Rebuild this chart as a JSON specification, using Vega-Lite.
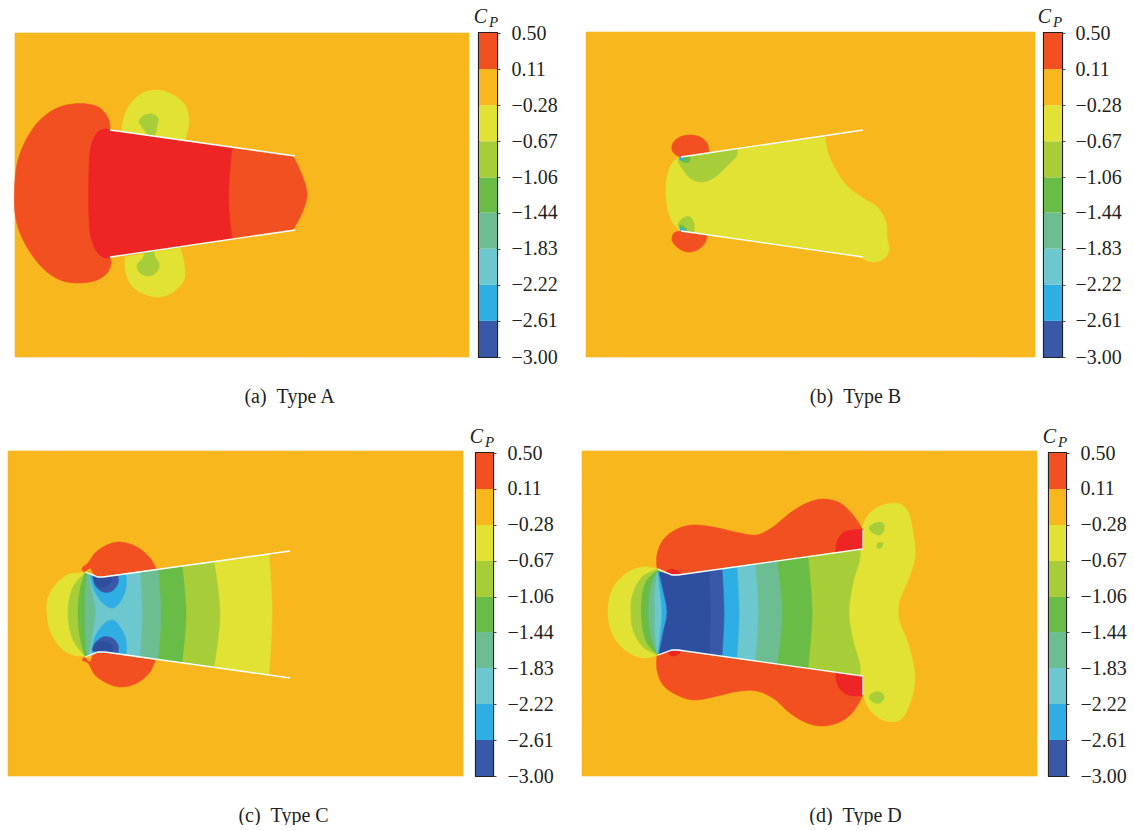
{"$schema":"https://vega.github.io/schema/vega-lite/v6.json","padding":{"left":6,"top":4,"right":0,"bottom":0},"background":"white","spacing":18,"config":{"view":{"stroke":null},"axis":{"grid":false},"font":"Liberation Serif"},
"datasets":{
"bands":[{"band":-3,"hi":-2.61},{"band":-2.61,"hi":-2.22},{"band":-2.22,"hi":-1.83},{"band":-1.83,"hi":-1.44},{"band":-1.44,"hi":-1.06},{"band":-1.06,"hi":-0.67},{"band":-0.67,"hi":-0.28},{"band":-0.28,"hi":0.11},{"band":0.11,"hi":0.5}],
"a":[
{"poly":"a0","band":-0.28,"x":15,"y":33},{"poly":"a0","band":-0.28,"x":15,"y":33},{"poly":"a0","band":-0.28,"x":469,"y":33},{"poly":"a0","band":-0.28,"x":469,"y":33},{"poly":"a0","band":-0.28,"x":469,"y":357},{"poly":"a0","band":-0.28,"x":469,"y":357},{"poly":"a0","band":-0.28,"x":15,"y":357},{"poly":"a0","band":-0.28,"x":15,"y":357},
{"poly":"a1","band":-0.67,"x":122,"y":131},{"poly":"a1","band":-0.67,"x":122,"y":131},{"poly":"a1","band":-0.67,"x":124,"y":117},{"poly":"a1","band":-0.67,"x":132,"y":102},{"poly":"a1","band":-0.67,"x":143,"y":93},{"poly":"a1","band":-0.67,"x":158,"y":90},{"poly":"a1","band":-0.67,"x":173,"y":95},{"poly":"a1","band":-0.67,"x":185,"y":105},{"poly":"a1","band":-0.67,"x":189,"y":120},{"poly":"a1","band":-0.67,"x":187,"y":133},{"poly":"a1","band":-0.67,"x":185,"y":141},{"poly":"a1","band":-0.67,"x":185,"y":141},
{"poly":"a2","band":-1.06,"x":139,"y":122},{"poly":"a2","band":-1.06,"x":143,"y":116},{"poly":"a2","band":-1.06,"x":152,"y":114},{"poly":"a2","band":-1.06,"x":158,"y":118},{"poly":"a2","band":-1.06,"x":157,"y":127},{"poly":"a2","band":-1.06,"x":155,"y":136},{"poly":"a2","band":-1.06,"x":155,"y":136},{"poly":"a2","band":-1.06,"x":147,"y":134},{"poly":"a2","band":-1.06,"x":147,"y":134},{"poly":"a2","band":-1.06,"x":142,"y":127},
{"poly":"a3","band":-0.67,"x":125,"y":257},{"poly":"a3","band":-0.67,"x":125,"y":257},{"poly":"a3","band":-0.67,"x":126,"y":273},{"poly":"a3","band":-0.67,"x":133,"y":287},{"poly":"a3","band":-0.67,"x":147,"y":295},{"poly":"a3","band":-0.67,"x":160,"y":297},{"poly":"a3","band":-0.67,"x":173,"y":292},{"poly":"a3","band":-0.67,"x":184,"y":280},{"poly":"a3","band":-0.67,"x":184,"y":263},{"poly":"a3","band":-0.67,"x":180,"y":248},{"poly":"a3","band":-0.67,"x":180,"y":248},
{"poly":"a4","band":-1.06,"x":145,"y":252},{"poly":"a4","band":-1.06,"x":145,"y":252},{"poly":"a4","band":-1.06,"x":143,"y":258},{"poly":"a4","band":-1.06,"x":137,"y":265},{"poly":"a4","band":-1.06,"x":140,"y":273},{"poly":"a4","band":-1.06,"x":150,"y":276},{"poly":"a4","band":-1.06,"x":158,"y":270},{"poly":"a4","band":-1.06,"x":159,"y":263},{"poly":"a4","band":-1.06,"x":155,"y":257},{"poly":"a4","band":-1.06,"x":154,"y":251},{"poly":"a4","band":-1.06,"x":154,"y":251},
{"poly":"a5","band":0.11,"x":110,"y":130},{"poly":"a5","band":0.11,"x":110,"y":130},{"poly":"a5","band":0.11,"x":109,"y":120},{"poly":"a5","band":0.11,"x":100,"y":108},{"poly":"a5","band":0.11,"x":87,"y":104},{"poly":"a5","band":0.11,"x":73,"y":104},{"poly":"a5","band":0.11,"x":57,"y":108},{"poly":"a5","band":0.11,"x":40,"y":120},{"poly":"a5","band":0.11,"x":27,"y":138},{"poly":"a5","band":0.11,"x":18,"y":160},{"poly":"a5","band":0.11,"x":15,"y":180},{"poly":"a5","band":0.11,"x":15,"y":213},{"poly":"a5","band":0.11,"x":20,"y":233},{"poly":"a5","band":0.11,"x":32,"y":255},{"poly":"a5","band":0.11,"x":47,"y":272},{"poly":"a5","band":0.11,"x":63,"y":281},{"poly":"a5","band":0.11,"x":80,"y":283},{"poly":"a5","band":0.11,"x":97,"y":280},{"poly":"a5","band":0.11,"x":108,"y":272},{"poly":"a5","band":0.11,"x":111,"y":263},{"poly":"a5","band":0.11,"x":110,"y":257},{"poly":"a5","band":0.11,"x":110,"y":257},
{"poly":"a6","band":0.11,"x":220,"y":146},{"poly":"a6","band":0.11,"x":220,"y":146},{"poly":"a6","band":0.11,"x":293,"y":156},{"poly":"a6","band":0.11,"x":293,"y":156},{"poly":"a6","band":0.11,"x":300,"y":170},{"poly":"a6","band":0.11,"x":306,"y":187},{"poly":"a6","band":0.11,"x":307,"y":197},{"poly":"a6","band":0.11,"x":302,"y":213},{"poly":"a6","band":0.11,"x":293,"y":230},{"poly":"a6","band":0.11,"x":293,"y":230},{"poly":"a6","band":0.11,"x":220,"y":240},{"poly":"a6","band":0.11,"x":220,"y":240},
{"poly":"a7","band":0.5,"x":110,"y":130},{"poly":"a7","band":0.5,"x":110,"y":130},{"poly":"a7","band":0.5,"x":105,"y":129},{"poly":"a7","band":0.5,"x":98,"y":132},{"poly":"a7","band":0.5,"x":93,"y":140},{"poly":"a7","band":0.5,"x":90,"y":153},{"poly":"a7","band":0.5,"x":89,"y":170},{"poly":"a7","band":0.5,"x":89,"y":217},{"poly":"a7","band":0.5,"x":91,"y":237},{"poly":"a7","band":0.5,"x":97,"y":252},{"poly":"a7","band":0.5,"x":105,"y":258},{"poly":"a7","band":0.5,"x":110,"y":257},{"poly":"a7","band":0.5,"x":110,"y":257},{"poly":"a7","band":0.5,"x":232,"y":238},{"poly":"a7","band":0.5,"x":232,"y":238},{"poly":"a7","band":0.5,"x":229,"y":210},{"poly":"a7","band":0.5,"x":229,"y":183},{"poly":"a7","band":0.5,"x":232,"y":148},{"poly":"a7","band":0.5,"x":232,"y":148}],
"a_edges":[{"edge":"t","x":110,"y":130},{"edge":"t","x":295,"y":156},{"edge":"b","x":110,"y":257},{"edge":"b","x":295,"y":230}],
"b":[
{"poly":"b0","band":-0.28,"x":586,"y":32},{"poly":"b0","band":-0.28,"x":586,"y":32},{"poly":"b0","band":-0.28,"x":1035,"y":32},{"poly":"b0","band":-0.28,"x":1035,"y":32},{"poly":"b0","band":-0.28,"x":1035,"y":357},{"poly":"b0","band":-0.28,"x":1035,"y":357},{"poly":"b0","band":-0.28,"x":586,"y":357},{"poly":"b0","band":-0.28,"x":586,"y":357},
{"poly":"b1","band":-0.67,"x":825,"y":137},{"poly":"b1","band":-0.67,"x":825,"y":137},{"poly":"b1","band":-0.67,"x":828,"y":153},{"poly":"b1","band":-0.67,"x":837,"y":172},{"poly":"b1","band":-0.67,"x":848,"y":187},{"poly":"b1","band":-0.67,"x":863,"y":198},{"poly":"b1","band":-0.67,"x":878,"y":208},{"poly":"b1","band":-0.67,"x":886,"y":222},{"poly":"b1","band":-0.67,"x":887,"y":238},{"poly":"b1","band":-0.67,"x":889,"y":250},{"poly":"b1","band":-0.67,"x":885,"y":258},{"poly":"b1","band":-0.67,"x":875,"y":262},{"poly":"b1","band":-0.67,"x":863,"y":259},{"poly":"b1","band":-0.67,"x":862,"y":257},{"poly":"b1","band":-0.67,"x":862,"y":257},{"poly":"b1","band":-0.67,"x":680,"y":231},{"poly":"b1","band":-0.67,"x":680,"y":231},{"poly":"b1","band":-0.67,"x":673,"y":223},{"poly":"b1","band":-0.67,"x":668,"y":210},{"poly":"b1","band":-0.67,"x":666,"y":190},{"poly":"b1","band":-0.67,"x":668,"y":173},{"poly":"b1","band":-0.67,"x":673,"y":162},{"poly":"b1","band":-0.67,"x":680,"y":157},{"poly":"b1","band":-0.67,"x":680,"y":157},
{"poly":"b2","band":-1.06,"x":680,"y":158},{"poly":"b2","band":-1.06,"x":680,"y":158},{"poly":"b2","band":-1.06,"x":737,"y":149},{"poly":"b2","band":-1.06,"x":737,"y":149},{"poly":"b2","band":-1.06,"x":737,"y":155},{"poly":"b2","band":-1.06,"x":728,"y":165},{"poly":"b2","band":-1.06,"x":712,"y":179},{"poly":"b2","band":-1.06,"x":700,"y":182},{"poly":"b2","band":-1.06,"x":690,"y":178},{"poly":"b2","band":-1.06,"x":682,"y":168},{"poly":"b2","band":-1.06,"x":678,"y":160},
{"poly":"b3","band":-1.44,"x":680,"y":157},{"poly":"b3","band":-1.44,"x":690,"y":157},{"poly":"b3","band":-1.44,"x":689,"y":162},{"poly":"b3","band":-1.44,"x":683,"y":162},
{"poly":"b4","band":-2.61,"x":680,"y":157},{"poly":"b4","band":-2.61,"x":684,"y":157},{"poly":"b4","band":-2.61,"x":683,"y":160},{"poly":"b4","band":-2.61,"x":680,"y":160},
{"poly":"b5","band":0.11,"x":680,"y":157},{"poly":"b5","band":0.11,"x":680,"y":157},{"poly":"b5","band":0.11,"x":709,"y":152},{"poly":"b5","band":0.11,"x":709,"y":152},{"poly":"b5","band":0.11,"x":707,"y":143},{"poly":"b5","band":0.11,"x":700,"y":137},{"poly":"b5","band":0.11,"x":690,"y":135},{"poly":"b5","band":0.11,"x":680,"y":137},{"poly":"b5","band":0.11,"x":673,"y":143},{"poly":"b5","band":0.11,"x":672,"y":150},{"poly":"b5","band":0.11,"x":676,"y":155},
{"poly":"b6","band":0.11,"x":681,"y":231},{"poly":"b6","band":0.11,"x":681,"y":231},{"poly":"b6","band":0.11,"x":707,"y":235},{"poly":"b6","band":0.11,"x":707,"y":235},{"poly":"b6","band":0.11,"x":705,"y":243},{"poly":"b6","band":0.11,"x":697,"y":250},{"poly":"b6","band":0.11,"x":687,"y":252},{"poly":"b6","band":0.11,"x":677,"y":247},{"poly":"b6","band":0.11,"x":672,"y":240},{"poly":"b6","band":0.11,"x":674,"y":233},
{"poly":"b7","band":-1.06,"x":681,"y":230},{"poly":"b7","band":-1.06,"x":681,"y":230},{"poly":"b7","band":-1.06,"x":678,"y":225},{"poly":"b7","band":-1.06,"x":683,"y":218},{"poly":"b7","band":-1.06,"x":690,"y":217},{"poly":"b7","band":-1.06,"x":694,"y":223},{"poly":"b7","band":-1.06,"x":694,"y":233},{"poly":"b7","band":-1.06,"x":694,"y":233},
{"poly":"b8","band":-1.44,"x":680,"y":225},{"poly":"b8","band":-1.44,"x":685,"y":227},{"poly":"b8","band":-1.44,"x":687,"y":232},{"poly":"b8","band":-1.44,"x":681,"y":230},
{"poly":"b9","band":-2.61,"x":680,"y":228},{"poly":"b9","band":-2.61,"x":684,"y":229},{"poly":"b9","band":-2.61,"x":684,"y":231},{"poly":"b9","band":-2.61,"x":681,"y":231}],
"b_edges":[{"edge":"t","x":681,"y":157},{"edge":"t","x":863,"y":130},{"edge":"b","x":681,"y":231},{"edge":"b","x":863,"y":257}],
"c":[
{"poly":"c0","band":-0.28,"x":8,"y":451},{"poly":"c0","band":-0.28,"x":8,"y":451},{"poly":"c0","band":-0.28,"x":463,"y":451},{"poly":"c0","band":-0.28,"x":463,"y":451},{"poly":"c0","band":-0.28,"x":463,"y":776},{"poly":"c0","band":-0.28,"x":463,"y":776},{"poly":"c0","band":-0.28,"x":8,"y":776},{"poly":"c0","band":-0.28,"x":8,"y":776},
{"poly":"c1","band":0.11,"x":83,"y":567},{"poly":"c1","band":0.11,"x":88,"y":563},{"poly":"c1","band":0.11,"x":95,"y":553},{"poly":"c1","band":0.11,"x":107,"y":545},{"poly":"c1","band":0.11,"x":120,"y":542},{"poly":"c1","band":0.11,"x":137,"y":547},{"poly":"c1","band":0.11,"x":150,"y":558},{"poly":"c1","band":0.11,"x":157,"y":570},{"poly":"c1","band":0.11,"x":157,"y":570},{"poly":"c1","band":0.11,"x":103,"y":577},{"poly":"c1","band":0.11,"x":103,"y":577},{"poly":"c1","band":0.11,"x":98,"y":577},{"poly":"c1","band":0.11,"x":98,"y":577},{"poly":"c1","band":0.11,"x":93,"y":573},{"poly":"c1","band":0.11,"x":90,"y":568},{"poly":"c1","band":0.11,"x":85,"y":572},{"poly":"c1","band":0.11,"x":85,"y":572},{"poly":"c1","band":0.11,"x":82,"y":570},
{"poly":"c2","band":0.11,"x":82,"y":660},{"poly":"c2","band":0.11,"x":88,"y":663},{"poly":"c2","band":0.11,"x":95,"y":675},{"poly":"c2","band":0.11,"x":107,"y":683},{"poly":"c2","band":0.11,"x":120,"y":687},{"poly":"c2","band":0.11,"x":137,"y":683},{"poly":"c2","band":0.11,"x":150,"y":672},{"poly":"c2","band":0.11,"x":156,"y":658},{"poly":"c2","band":0.11,"x":156,"y":658},{"poly":"c2","band":0.11,"x":105,"y":652},{"poly":"c2","band":0.11,"x":105,"y":652},{"poly":"c2","band":0.11,"x":98,"y":652},{"poly":"c2","band":0.11,"x":98,"y":652},{"poly":"c2","band":0.11,"x":93,"y":655},{"poly":"c2","band":0.11,"x":90,"y":662},{"poly":"c2","band":0.11,"x":85,"y":657},{"poly":"c2","band":0.11,"x":85,"y":657},
{"poly":"c3","band":-0.67,"x":85,"y":573},{"poly":"c3","band":-0.67,"x":85,"y":573},{"poly":"c3","band":-0.67,"x":70,"y":574},{"poly":"c3","band":-0.67,"x":57,"y":583},{"poly":"c3","band":-0.67,"x":48,"y":598},{"poly":"c3","band":-0.67,"x":47,"y":613},{"poly":"c3","band":-0.67,"x":50,"y":630},{"poly":"c3","band":-0.67,"x":60,"y":647},{"poly":"c3","band":-0.67,"x":73,"y":655},{"poly":"c3","band":-0.67,"x":85,"y":656},{"poly":"c3","band":-0.67,"x":85,"y":656},{"poly":"c3","band":-0.67,"x":98,"y":652},{"poly":"c3","band":-0.67,"x":98,"y":652},{"poly":"c3","band":-0.67,"x":105,"y":652},{"poly":"c3","band":-0.67,"x":105,"y":652},{"poly":"c3","band":-0.67,"x":269,"y":675},{"poly":"c3","band":-0.67,"x":269,"y":675},{"poly":"c3","band":-0.67,"x":272,"y":613},{"poly":"c3","band":-0.67,"x":269,"y":554},{"poly":"c3","band":-0.67,"x":269,"y":554},{"poly":"c3","band":-0.67,"x":103,"y":577},{"poly":"c3","band":-0.67,"x":103,"y":577},{"poly":"c3","band":-0.67,"x":98,"y":577},{"poly":"c3","band":-0.67,"x":98,"y":577},
{"poly":"c4","band":-1.06,"x":85,"y":573},{"poly":"c4","band":-1.06,"x":85,"y":573},{"poly":"c4","band":-1.06,"x":73,"y":587},{"poly":"c4","band":-1.06,"x":68,"y":613},{"poly":"c4","band":-1.06,"x":73,"y":640},{"poly":"c4","band":-1.06,"x":85,"y":656},{"poly":"c4","band":-1.06,"x":85,"y":656},{"poly":"c4","band":-1.06,"x":98,"y":652},{"poly":"c4","band":-1.06,"x":98,"y":652},{"poly":"c4","band":-1.06,"x":105,"y":652},{"poly":"c4","band":-1.06,"x":105,"y":652},{"poly":"c4","band":-1.06,"x":214,"y":667},{"poly":"c4","band":-1.06,"x":214,"y":667},{"poly":"c4","band":-1.06,"x":220,"y":613},{"poly":"c4","band":-1.06,"x":214,"y":562},{"poly":"c4","band":-1.06,"x":214,"y":562},{"poly":"c4","band":-1.06,"x":103,"y":577},{"poly":"c4","band":-1.06,"x":103,"y":577},{"poly":"c4","band":-1.06,"x":98,"y":577},{"poly":"c4","band":-1.06,"x":98,"y":577},
{"poly":"c5","band":-1.44,"x":85,"y":573},{"poly":"c5","band":-1.44,"x":85,"y":573},{"poly":"c5","band":-1.44,"x":80,"y":590},{"poly":"c5","band":-1.44,"x":78,"y":613},{"poly":"c5","band":-1.44,"x":80,"y":637},{"poly":"c5","band":-1.44,"x":85,"y":656},{"poly":"c5","band":-1.44,"x":85,"y":656},{"poly":"c5","band":-1.44,"x":98,"y":652},{"poly":"c5","band":-1.44,"x":98,"y":652},{"poly":"c5","band":-1.44,"x":105,"y":652},{"poly":"c5","band":-1.44,"x":105,"y":652},{"poly":"c5","band":-1.44,"x":182,"y":663},{"poly":"c5","band":-1.44,"x":182,"y":663},{"poly":"c5","band":-1.44,"x":186,"y":613},{"poly":"c5","band":-1.44,"x":182,"y":566},{"poly":"c5","band":-1.44,"x":182,"y":566},{"poly":"c5","band":-1.44,"x":103,"y":577},{"poly":"c5","band":-1.44,"x":103,"y":577},{"poly":"c5","band":-1.44,"x":98,"y":577},{"poly":"c5","band":-1.44,"x":98,"y":577},
{"poly":"c6","band":-1.83,"x":87,"y":574},{"poly":"c6","band":-1.83,"x":87,"y":574},{"poly":"c6","band":-1.83,"x":85,"y":593},{"poly":"c6","band":-1.83,"x":85,"y":613},{"poly":"c6","band":-1.83,"x":85,"y":633},{"poly":"c6","band":-1.83,"x":87,"y":656},{"poly":"c6","band":-1.83,"x":87,"y":656},{"poly":"c6","band":-1.83,"x":98,"y":652},{"poly":"c6","band":-1.83,"x":98,"y":652},{"poly":"c6","band":-1.83,"x":105,"y":652},{"poly":"c6","band":-1.83,"x":105,"y":652},{"poly":"c6","band":-1.83,"x":158,"y":659},{"poly":"c6","band":-1.83,"x":158,"y":659},{"poly":"c6","band":-1.83,"x":161,"y":613},{"poly":"c6","band":-1.83,"x":158,"y":569},{"poly":"c6","band":-1.83,"x":158,"y":569},{"poly":"c6","band":-1.83,"x":103,"y":577},{"poly":"c6","band":-1.83,"x":103,"y":577},{"poly":"c6","band":-1.83,"x":98,"y":577},{"poly":"c6","band":-1.83,"x":98,"y":577},
{"poly":"c7","band":-2.22,"x":89,"y":574},{"poly":"c7","band":-2.22,"x":89,"y":574},{"poly":"c7","band":-2.22,"x":94,"y":600},{"poly":"c7","band":-2.22,"x":96,"y":613},{"poly":"c7","band":-2.22,"x":94,"y":627},{"poly":"c7","band":-2.22,"x":89,"y":656},{"poly":"c7","band":-2.22,"x":89,"y":656},{"poly":"c7","band":-2.22,"x":98,"y":652},{"poly":"c7","band":-2.22,"x":98,"y":652},{"poly":"c7","band":-2.22,"x":105,"y":652},{"poly":"c7","band":-2.22,"x":105,"y":652},{"poly":"c7","band":-2.22,"x":140,"y":657},{"poly":"c7","band":-2.22,"x":140,"y":657},{"poly":"c7","band":-2.22,"x":142,"y":613},{"poly":"c7","band":-2.22,"x":140,"y":572},{"poly":"c7","band":-2.22,"x":140,"y":572},{"poly":"c7","band":-2.22,"x":103,"y":577},{"poly":"c7","band":-2.22,"x":103,"y":577},{"poly":"c7","band":-2.22,"x":98,"y":577},{"poly":"c7","band":-2.22,"x":98,"y":577},
{"poly":"c8","band":-2.61,"x":90,"y":575},{"poly":"c8","band":-2.61,"x":90,"y":575},{"poly":"c8","band":-2.61,"x":98,"y":577},{"poly":"c8","band":-2.61,"x":98,"y":577},{"poly":"c8","band":-2.61,"x":103,"y":577},{"poly":"c8","band":-2.61,"x":103,"y":577},{"poly":"c8","band":-2.61,"x":126,"y":574},{"poly":"c8","band":-2.61,"x":126,"y":574},{"poly":"c8","band":-2.61,"x":126,"y":588},{"poly":"c8","band":-2.61,"x":120,"y":602},{"poly":"c8","band":-2.61,"x":113,"y":608},{"poly":"c8","band":-2.61,"x":105,"y":605},{"poly":"c8","band":-2.61,"x":95,"y":592},
{"poly":"c9","band":-2.61,"x":92,"y":653},{"poly":"c9","band":-2.61,"x":92,"y":653},{"poly":"c9","band":-2.61,"x":98,"y":652},{"poly":"c9","band":-2.61,"x":98,"y":652},{"poly":"c9","band":-2.61,"x":105,"y":652},{"poly":"c9","band":-2.61,"x":105,"y":652},{"poly":"c9","band":-2.61,"x":126,"y":655},{"poly":"c9","band":-2.61,"x":126,"y":655},{"poly":"c9","band":-2.61,"x":126,"y":640},{"poly":"c9","band":-2.61,"x":120,"y":627},{"poly":"c9","band":-2.61,"x":113,"y":620},{"poly":"c9","band":-2.61,"x":105,"y":623},{"poly":"c9","band":-2.61,"x":95,"y":637},
{"poly":"c10","band":-3,"x":93,"y":576},{"poly":"c10","band":-3,"x":93,"y":576},{"poly":"c10","band":-3,"x":98,"y":577},{"poly":"c10","band":-3,"x":98,"y":577},{"poly":"c10","band":-3,"x":103,"y":577},{"poly":"c10","band":-3,"x":103,"y":577},{"poly":"c10","band":-3,"x":118,"y":575},{"poly":"c10","band":-3,"x":118,"y":575},{"poly":"c10","band":-3,"x":118,"y":583},{"poly":"c10","band":-3,"x":112,"y":591},{"poly":"c10","band":-3,"x":103,"y":592},{"poly":"c10","band":-3,"x":95,"y":585},
{"poly":"c11","band":-3,"x":92,"y":650},{"poly":"c11","band":-3,"x":92,"y":650},{"poly":"c11","band":-3,"x":98,"y":652},{"poly":"c11","band":-3,"x":98,"y":652},{"poly":"c11","band":-3,"x":105,"y":652},{"poly":"c11","band":-3,"x":105,"y":652},{"poly":"c11","band":-3,"x":118,"y":654},{"poly":"c11","band":-3,"x":118,"y":654},{"poly":"c11","band":-3,"x":118,"y":645},{"poly":"c11","band":-3,"x":112,"y":638},{"poly":"c11","band":-3,"x":103,"y":637},{"poly":"c11","band":-3,"x":95,"y":643},
{"poly":"c12","band":-3.39,"x":93,"y":577},{"poly":"c12","band":-3.39,"x":93,"y":577},{"poly":"c12","band":-3.39,"x":103,"y":577},{"poly":"c12","band":-3.39,"x":103,"y":577},{"poly":"c12","band":-3.39,"x":110,"y":576},{"poly":"c12","band":-3.39,"x":110,"y":576},{"poly":"c12","band":-3.39,"x":112,"y":580},{"poly":"c12","band":-3.39,"x":105,"y":587},{"poly":"c12","band":-3.39,"x":97,"y":585},
{"poly":"c13","band":-3.39,"x":93,"y":651},{"poly":"c13","band":-3.39,"x":93,"y":651},{"poly":"c13","band":-3.39,"x":105,"y":652},{"poly":"c13","band":-3.39,"x":105,"y":652},{"poly":"c13","band":-3.39,"x":112,"y":653},{"poly":"c13","band":-3.39,"x":112,"y":653},{"poly":"c13","band":-3.39,"x":112,"y":645},{"poly":"c13","band":-3.39,"x":105,"y":642},{"poly":"c13","band":-3.39,"x":97,"y":643}],
"c_edges":[{"edge":"t","x":85,"y":572},{"edge":"t","x":98,"y":577},{"edge":"t","x":103,"y":577},{"edge":"t","x":290,"y":551},{"edge":"b","x":85,"y":657},{"edge":"b","x":98,"y":652},{"edge":"b","x":105,"y":652},{"edge":"b","x":290,"y":678}],
"d":[
{"poly":"d0","band":-0.28,"x":582,"y":451},{"poly":"d0","band":-0.28,"x":582,"y":451},{"poly":"d0","band":-0.28,"x":1037,"y":451},{"poly":"d0","band":-0.28,"x":1037,"y":451},{"poly":"d0","band":-0.28,"x":1037,"y":776},{"poly":"d0","band":-0.28,"x":1037,"y":776},{"poly":"d0","band":-0.28,"x":582,"y":776},{"poly":"d0","band":-0.28,"x":582,"y":776},
{"poly":"d1","band":-0.67,"x":863,"y":525},{"poly":"d1","band":-0.67,"x":863,"y":525},{"poly":"d1","band":-0.67,"x":870,"y":513},{"poly":"d1","band":-0.67,"x":883,"y":505},{"poly":"d1","band":-0.67,"x":900,"y":504},{"poly":"d1","band":-0.67,"x":908,"y":512},{"poly":"d1","band":-0.67,"x":913,"y":533},{"poly":"d1","band":-0.67,"x":915,"y":557},{"poly":"d1","band":-0.67,"x":908,"y":580},{"poly":"d1","band":-0.67,"x":899,"y":603},{"poly":"d1","band":-0.67,"x":899,"y":620},{"poly":"d1","band":-0.67,"x":908,"y":643},{"poly":"d1","band":-0.67,"x":915,"y":677},{"poly":"d1","band":-0.67,"x":910,"y":703},{"poly":"d1","band":-0.67,"x":900,"y":720},{"poly":"d1","band":-0.67,"x":883,"y":720},{"poly":"d1","band":-0.67,"x":870,"y":710},{"poly":"d1","band":-0.67,"x":863,"y":695},{"poly":"d1","band":-0.67,"x":863,"y":695},{"poly":"d1","band":-0.67,"x":845,"y":676},{"poly":"d1","band":-0.67,"x":845,"y":676},{"poly":"d1","band":-0.67,"x":845,"y":549},{"poly":"d1","band":-0.67,"x":845,"y":549},
{"poly":"d2","band":-1.06,"x":869,"y":528},{"poly":"d2","band":-1.06,"x":875,"y":523},{"poly":"d2","band":-1.06,"x":883,"y":523},{"poly":"d2","band":-1.06,"x":884,"y":530},{"poly":"d2","band":-1.06,"x":880,"y":535},{"poly":"d2","band":-1.06,"x":873,"y":533},
{"poly":"d3","band":-1.06,"x":877,"y":545},{"poly":"d3","band":-1.06,"x":878,"y":543},{"poly":"d3","band":-1.06,"x":883,"y":543},{"poly":"d3","band":-1.06,"x":881,"y":548},{"poly":"d3","band":-1.06,"x":877,"y":548},
{"poly":"d4","band":-1.06,"x":869,"y":697},{"poly":"d4","band":-1.06,"x":875,"y":692},{"poly":"d4","band":-1.06,"x":882,"y":693},{"poly":"d4","band":-1.06,"x":884,"y":698},{"poly":"d4","band":-1.06,"x":880,"y":703},{"poly":"d4","band":-1.06,"x":873,"y":702},
{"poly":"d5","band":0.11,"x":657,"y":568},{"poly":"d5","band":0.11,"x":657,"y":568},{"poly":"d5","band":0.11,"x":657,"y":555},{"poly":"d5","band":0.11,"x":663,"y":540},{"poly":"d5","band":0.11,"x":677,"y":529},{"poly":"d5","band":0.11,"x":693,"y":525},{"poly":"d5","band":0.11,"x":713,"y":527},{"poly":"d5","band":0.11,"x":740,"y":533},{"poly":"d5","band":0.11,"x":757,"y":535},{"poly":"d5","band":0.11,"x":773,"y":527},{"poly":"d5","band":0.11,"x":790,"y":513},{"poly":"d5","band":0.11,"x":807,"y":503},{"poly":"d5","band":0.11,"x":823,"y":499},{"poly":"d5","band":0.11,"x":840,"y":503},{"poly":"d5","band":0.11,"x":853,"y":515},{"poly":"d5","band":0.11,"x":863,"y":530},{"poly":"d5","band":0.11,"x":863,"y":530},{"poly":"d5","band":0.11,"x":863,"y":549},{"poly":"d5","band":0.11,"x":863,"y":549},{"poly":"d5","band":0.11,"x":678,"y":575},{"poly":"d5","band":0.11,"x":678,"y":575},{"poly":"d5","band":0.11,"x":672,"y":575},{"poly":"d5","band":0.11,"x":672,"y":575},{"poly":"d5","band":0.11,"x":658,"y":569},{"poly":"d5","band":0.11,"x":658,"y":569},
{"poly":"d6","band":0.5,"x":836,"y":553},{"poly":"d6","band":0.5,"x":836,"y":553},{"poly":"d6","band":0.5,"x":837,"y":542},{"poly":"d6","band":0.5,"x":843,"y":533},{"poly":"d6","band":0.5,"x":853,"y":530},{"poly":"d6","band":0.5,"x":863,"y":530},{"poly":"d6","band":0.5,"x":863,"y":530},{"poly":"d6","band":0.5,"x":863,"y":549},{"poly":"d6","band":0.5,"x":863,"y":549},
{"poly":"d7","band":0.5,"x":665,"y":572},{"poly":"d7","band":0.5,"x":665,"y":572},{"poly":"d7","band":0.5,"x":672,"y":569},{"poly":"d7","band":0.5,"x":680,"y":573},{"poly":"d7","band":0.5,"x":680,"y":575},{"poly":"d7","band":0.5,"x":680,"y":575},{"poly":"d7","band":0.5,"x":672,"y":575},{"poly":"d7","band":0.5,"x":672,"y":575},
{"poly":"d8","band":0.11,"x":657,"y":656},{"poly":"d8","band":0.11,"x":657,"y":656},{"poly":"d8","band":0.11,"x":657,"y":670},{"poly":"d8","band":0.11,"x":663,"y":685},{"poly":"d8","band":0.11,"x":677,"y":695},{"poly":"d8","band":0.11,"x":693,"y":700},{"poly":"d8","band":0.11,"x":713,"y":697},{"poly":"d8","band":0.11,"x":740,"y":691},{"poly":"d8","band":0.11,"x":757,"y":691},{"poly":"d8","band":0.11,"x":773,"y":698},{"poly":"d8","band":0.11,"x":790,"y":713},{"poly":"d8","band":0.11,"x":807,"y":723},{"poly":"d8","band":0.11,"x":823,"y":726},{"poly":"d8","band":0.11,"x":840,"y":722},{"poly":"d8","band":0.11,"x":853,"y":712},{"poly":"d8","band":0.11,"x":863,"y":695},{"poly":"d8","band":0.11,"x":863,"y":695},{"poly":"d8","band":0.11,"x":863,"y":676},{"poly":"d8","band":0.11,"x":863,"y":676},{"poly":"d8","band":0.11,"x":678,"y":650},{"poly":"d8","band":0.11,"x":678,"y":650},{"poly":"d8","band":0.11,"x":672,"y":650},{"poly":"d8","band":0.11,"x":672,"y":650},{"poly":"d8","band":0.11,"x":658,"y":655},{"poly":"d8","band":0.11,"x":658,"y":655},
{"poly":"d9","band":0.5,"x":836,"y":672},{"poly":"d9","band":0.5,"x":836,"y":672},{"poly":"d9","band":0.5,"x":837,"y":683},{"poly":"d9","band":0.5,"x":843,"y":692},{"poly":"d9","band":0.5,"x":853,"y":696},{"poly":"d9","band":0.5,"x":863,"y":695},{"poly":"d9","band":0.5,"x":863,"y":695},{"poly":"d9","band":0.5,"x":863,"y":676},{"poly":"d9","band":0.5,"x":863,"y":676},
{"poly":"d10","band":0.5,"x":667,"y":652},{"poly":"d10","band":0.5,"x":667,"y":652},{"poly":"d10","band":0.5,"x":672,"y":656},{"poly":"d10","band":0.5,"x":680,"y":653},{"poly":"d10","band":0.5,"x":680,"y":650},{"poly":"d10","band":0.5,"x":680,"y":650},{"poly":"d10","band":0.5,"x":672,"y":650},{"poly":"d10","band":0.5,"x":672,"y":650},
{"poly":"d11","band":-0.67,"x":658,"y":569},{"poly":"d11","band":-0.67,"x":658,"y":569},{"poly":"d11","band":-0.67,"x":643,"y":567},{"poly":"d11","band":-0.67,"x":627,"y":573},{"poly":"d11","band":-0.67,"x":613,"y":588},{"poly":"d11","band":-0.67,"x":608,"y":610},{"poly":"d11","band":-0.67,"x":612,"y":633},{"poly":"d11","band":-0.67,"x":625,"y":650},{"poly":"d11","band":-0.67,"x":643,"y":658},{"poly":"d11","band":-0.67,"x":658,"y":655},{"poly":"d11","band":-0.67,"x":658,"y":655},
{"poly":"d12","band":-1.06,"x":658,"y":569},{"poly":"d12","band":-1.06,"x":658,"y":569},{"poly":"d12","band":-1.06,"x":642,"y":577},{"poly":"d12","band":-1.06,"x":632,"y":597},{"poly":"d12","band":-1.06,"x":631,"y":613},{"poly":"d12","band":-1.06,"x":633,"y":630},{"poly":"d12","band":-1.06,"x":643,"y":647},{"poly":"d12","band":-1.06,"x":658,"y":655},{"poly":"d12","band":-1.06,"x":658,"y":655},{"poly":"d12","band":-1.06,"x":672,"y":650},{"poly":"d12","band":-1.06,"x":672,"y":650},{"poly":"d12","band":-1.06,"x":678,"y":650},{"poly":"d12","band":-1.06,"x":678,"y":650},{"poly":"d12","band":-1.06,"x":860,"y":675},{"poly":"d12","band":-1.06,"x":860,"y":675},{"poly":"d12","band":-1.06,"x":860,"y":665},{"poly":"d12","band":-1.06,"x":853,"y":640},{"poly":"d12","band":-1.06,"x":849,"y":612},{"poly":"d12","band":-1.06,"x":853,"y":583},{"poly":"d12","band":-1.06,"x":860,"y":558},{"poly":"d12","band":-1.06,"x":860,"y":549},{"poly":"d12","band":-1.06,"x":860,"y":549},{"poly":"d12","band":-1.06,"x":678,"y":575},{"poly":"d12","band":-1.06,"x":678,"y":575},{"poly":"d12","band":-1.06,"x":672,"y":575},{"poly":"d12","band":-1.06,"x":672,"y":575},
{"poly":"d13","band":-1.44,"x":657,"y":571},{"poly":"d13","band":-1.44,"x":657,"y":571},{"poly":"d13","band":-1.44,"x":647,"y":580},{"poly":"d13","band":-1.44,"x":642,"y":597},{"poly":"d13","band":-1.44,"x":642,"y":623},{"poly":"d13","band":-1.44,"x":647,"y":643},{"poly":"d13","band":-1.44,"x":657,"y":654},{"poly":"d13","band":-1.44,"x":657,"y":654},{"poly":"d13","band":-1.44,"x":672,"y":650},{"poly":"d13","band":-1.44,"x":672,"y":650},{"poly":"d13","band":-1.44,"x":678,"y":650},{"poly":"d13","band":-1.44,"x":678,"y":650},{"poly":"d13","band":-1.44,"x":808,"y":668},{"poly":"d13","band":-1.44,"x":808,"y":668},{"poly":"d13","band":-1.44,"x":812,"y":612},{"poly":"d13","band":-1.44,"x":808,"y":557},{"poly":"d13","band":-1.44,"x":808,"y":557},{"poly":"d13","band":-1.44,"x":678,"y":575},{"poly":"d13","band":-1.44,"x":678,"y":575},{"poly":"d13","band":-1.44,"x":672,"y":575},{"poly":"d13","band":-1.44,"x":672,"y":575},
{"poly":"d14","band":-1.83,"x":657,"y":572},{"poly":"d14","band":-1.83,"x":657,"y":572},{"poly":"d14","band":-1.83,"x":652,"y":583},{"poly":"d14","band":-1.83,"x":649,"y":600},{"poly":"d14","band":-1.83,"x":649,"y":623},{"poly":"d14","band":-1.83,"x":652,"y":640},{"poly":"d14","band":-1.83,"x":657,"y":653},{"poly":"d14","band":-1.83,"x":657,"y":653},{"poly":"d14","band":-1.83,"x":672,"y":650},{"poly":"d14","band":-1.83,"x":672,"y":650},{"poly":"d14","band":-1.83,"x":678,"y":650},{"poly":"d14","band":-1.83,"x":678,"y":650},{"poly":"d14","band":-1.83,"x":777,"y":664},{"poly":"d14","band":-1.83,"x":777,"y":664},{"poly":"d14","band":-1.83,"x":782,"y":613},{"poly":"d14","band":-1.83,"x":777,"y":561},{"poly":"d14","band":-1.83,"x":777,"y":561},{"poly":"d14","band":-1.83,"x":678,"y":575},{"poly":"d14","band":-1.83,"x":678,"y":575},{"poly":"d14","band":-1.83,"x":672,"y":575},{"poly":"d14","band":-1.83,"x":672,"y":575},
{"poly":"d15","band":-2.22,"x":657,"y":573},{"poly":"d15","band":-2.22,"x":657,"y":573},{"poly":"d15","band":-2.22,"x":655,"y":590},{"poly":"d15","band":-2.22,"x":655,"y":613},{"poly":"d15","band":-2.22,"x":655,"y":633},{"poly":"d15","band":-2.22,"x":657,"y":653},{"poly":"d15","band":-2.22,"x":657,"y":653},{"poly":"d15","band":-2.22,"x":672,"y":650},{"poly":"d15","band":-2.22,"x":672,"y":650},{"poly":"d15","band":-2.22,"x":678,"y":650},{"poly":"d15","band":-2.22,"x":678,"y":650},{"poly":"d15","band":-2.22,"x":755,"y":661},{"poly":"d15","band":-2.22,"x":755,"y":661},{"poly":"d15","band":-2.22,"x":758,"y":613},{"poly":"d15","band":-2.22,"x":755,"y":564},{"poly":"d15","band":-2.22,"x":755,"y":564},{"poly":"d15","band":-2.22,"x":678,"y":575},{"poly":"d15","band":-2.22,"x":678,"y":575},{"poly":"d15","band":-2.22,"x":672,"y":575},{"poly":"d15","band":-2.22,"x":672,"y":575},
{"poly":"d16","band":-2.61,"x":658,"y":572},{"poly":"d16","band":-2.61,"x":658,"y":572},{"poly":"d16","band":-2.61,"x":660,"y":590},{"poly":"d16","band":-2.61,"x":662,"y":613},{"poly":"d16","band":-2.61,"x":660,"y":637},{"poly":"d16","band":-2.61,"x":658,"y":653},{"poly":"d16","band":-2.61,"x":658,"y":653},{"poly":"d16","band":-2.61,"x":672,"y":650},{"poly":"d16","band":-2.61,"x":672,"y":650},{"poly":"d16","band":-2.61,"x":678,"y":650},{"poly":"d16","band":-2.61,"x":678,"y":650},{"poly":"d16","band":-2.61,"x":737,"y":658},{"poly":"d16","band":-2.61,"x":737,"y":658},{"poly":"d16","band":-2.61,"x":739,"y":613},{"poly":"d16","band":-2.61,"x":737,"y":567},{"poly":"d16","band":-2.61,"x":737,"y":567},{"poly":"d16","band":-2.61,"x":678,"y":575},{"poly":"d16","band":-2.61,"x":678,"y":575},{"poly":"d16","band":-2.61,"x":672,"y":575},{"poly":"d16","band":-2.61,"x":672,"y":575},
{"poly":"d17","band":-3,"x":659,"y":572},{"poly":"d17","band":-3,"x":659,"y":572},{"poly":"d17","band":-3,"x":663,"y":590},{"poly":"d17","band":-3,"x":667,"y":612},{"poly":"d17","band":-3,"x":663,"y":633},{"poly":"d17","band":-3,"x":659,"y":654},{"poly":"d17","band":-3,"x":659,"y":654},{"poly":"d17","band":-3,"x":672,"y":650},{"poly":"d17","band":-3,"x":672,"y":650},{"poly":"d17","band":-3,"x":678,"y":650},{"poly":"d17","band":-3,"x":678,"y":650},{"poly":"d17","band":-3,"x":722,"y":656},{"poly":"d17","band":-3,"x":722,"y":656},{"poly":"d17","band":-3,"x":724,"y":612},{"poly":"d17","band":-3,"x":722,"y":569},{"poly":"d17","band":-3,"x":722,"y":569},{"poly":"d17","band":-3,"x":678,"y":575},{"poly":"d17","band":-3,"x":678,"y":575},{"poly":"d17","band":-3,"x":672,"y":575},{"poly":"d17","band":-3,"x":672,"y":575},
{"poly":"d18","band":-3.39,"x":660,"y":573},{"poly":"d18","band":-3.39,"x":660,"y":573},{"poly":"d18","band":-3.39,"x":664,"y":590},{"poly":"d18","band":-3.39,"x":668,"y":612},{"poly":"d18","band":-3.39,"x":664,"y":633},{"poly":"d18","band":-3.39,"x":660,"y":653},{"poly":"d18","band":-3.39,"x":660,"y":653},{"poly":"d18","band":-3.39,"x":672,"y":650},{"poly":"d18","band":-3.39,"x":672,"y":650},{"poly":"d18","band":-3.39,"x":678,"y":650},{"poly":"d18","band":-3.39,"x":678,"y":650},{"poly":"d18","band":-3.39,"x":709,"y":654},{"poly":"d18","band":-3.39,"x":709,"y":654},{"poly":"d18","band":-3.39,"x":710,"y":613},{"poly":"d18","band":-3.39,"x":709,"y":571},{"poly":"d18","band":-3.39,"x":709,"y":571},{"poly":"d18","band":-3.39,"x":678,"y":575},{"poly":"d18","band":-3.39,"x":678,"y":575},{"poly":"d18","band":-3.39,"x":672,"y":575},{"poly":"d18","band":-3.39,"x":672,"y":575}],
"d_edges":[{"edge":"t","x":658,"y":569},{"edge":"t","x":672,"y":575},{"edge":"t","x":678,"y":575},{"edge":"t","x":863,"y":549},{"edge":"t","x":863,"y":530},{"edge":"b","x":658,"y":655},{"edge":"b","x":672,"y":650},{"edge":"b","x":678,"y":650},{"edge":"b","x":863,"y":676},{"edge":"b","x":863,"y":695}]
},
"vconcat":[
{"hconcat":[
{"width":8,"height":324,"data":{"values":[]},"mark":"rect"},
{"width":464,"height":324,"layer":[
{"data":{"name":"a"},"mark":{"type":"line","interpolate":"catmull-rom-closed","strokeWidth":0.6},"encoding":{"x":{"field":"x","type":"quantitative","scale":{"domain":[15,479],"nice":false,"zero":false},"axis":{"orient":"bottom","domain":false,"ticks":false,"labels":false,"title":"(a)\u00a0\u00a0Type A","titleX":274,"titleY":45,"titleFont":"Liberation Serif","titleFontSize":20,"titleFontWeight":"normal","titleColor":"#231F20","titleBaseline":"alphabetic","titleAlign":"center"}},"y":{"field":"y","type":"quantitative","scale":{"domain":[357,33],"nice":false,"zero":false},"axis":null},"fill":{"field":"band","type":"ordinal","legend":null,"scale":{"domain":[-3.39,-3,-2.61,-2.22,-1.83,-1.44,-1.06,-0.67,-0.28,0.11,0.5],"range":["#2E4EA0","#3A58A8","#2FAEE4","#6CC7CE","#6CBE92","#69BC45","#A7CE39","#E2E235","#F7B71D","#F35022","#EE2425"]}},"stroke":{"field":"band","type":"ordinal","legend":null,"scale":{"domain":[-3.39,-3,-2.61,-2.22,-1.83,-1.44,-1.06,-0.67,-0.28,0.11,0.5],"range":["#2E4EA0","#3A58A8","#2FAEE4","#6CC7CE","#6CBE92","#69BC45","#A7CE39","#E2E235","#F7B71D","#F35022","#EE2425"]}},"detail":{"field":"poly"},"order":{"value":null}}},
{"data":{"name":"a_edges"},"mark":{"type":"line","stroke":"white","strokeWidth":1.3},"encoding":{"x":{"field":"x","type":"quantitative"},"y":{"field":"y","type":"quantitative"},"detail":{"field":"edge"},"order":{"value":null}}}
]},
{"width":18,"height":324,"view":{"stroke":"#231F20","strokeWidth":2.2},"data":{"name":"bands"},"mark":"rect","encoding":{"y":{"field":"band","type":"quantitative","scale":{"domain":[-3,0.5],"nice":false,"zero":false},"axis":{"orient":"right","values":[-3,-2.61,-2.22,-1.83,-1.44,-1.06,-0.67,-0.28,0.11,0.5],"format":".2f","domain":false,"tickSize":3,"tickColor":"#444444","labelPadding":11,"labelFont":"Liberation Serif","labelFontSize":20,"labelColor":"#231F20","labelOverlap":false,"title":"C","titleAngle":0,"titleX":-17,"titleY":-11,"titleAlign":"center","titleBaseline":"alphabetic","titleFont":"Liberation Serif","titleFontStyle":"italic","titleFontWeight":"normal","titleFontSize":20,"titleColor":"#231F20"}},"y2":{"field":"hi"},"x":{"datum":0,"type":"quantitative","scale":{"domain":[0,1]},"axis":{"orient":"top","domain":false,"ticks":false,"labels":false,"title":"P","titleX":14,"titleY":-7,"titleAlign":"center","titleBaseline":"alphabetic","titleFont":"Liberation Serif","titleFontStyle":"italic","titleFontWeight":"normal","titleFontSize":15,"titleColor":"#231F20"}},"x2":{"datum":1},"fill":{"field":"band","type":"ordinal","legend":null,"scale":{"domain":[-3.39,-3,-2.61,-2.22,-1.83,-1.44,-1.06,-0.67,-0.28,0.11,0.5],"range":["#2E4EA0","#3A58A8","#2FAEE4","#6CC7CE","#6CBE92","#69BC45","#A7CE39","#E2E235","#F7B71D","#F35022","#EE2425"]}}}},
{"width":89,"height":324,"data":{"values":[]},"mark":"rect"},
{"width":458,"height":324,"layer":[
{"data":{"name":"b"},"mark":{"type":"line","interpolate":"catmull-rom-closed","strokeWidth":0.6},"encoding":{"x":{"field":"x","type":"quantitative","scale":{"domain":[586,1044],"nice":false,"zero":false},"axis":{"orient":"bottom","domain":false,"ticks":false,"labels":false,"title":"(b)\u00a0\u00a0Type B","titleX":269,"titleY":45,"titleFont":"Liberation Serif","titleFontSize":20,"titleFontWeight":"normal","titleColor":"#231F20","titleBaseline":"alphabetic","titleAlign":"center"}},"y":{"field":"y","type":"quantitative","scale":{"domain":[357,33],"nice":false,"zero":false},"axis":null},"fill":{"field":"band","type":"ordinal","legend":null,"scale":{"domain":[-3.39,-3,-2.61,-2.22,-1.83,-1.44,-1.06,-0.67,-0.28,0.11,0.5],"range":["#2E4EA0","#3A58A8","#2FAEE4","#6CC7CE","#6CBE92","#69BC45","#A7CE39","#E2E235","#F7B71D","#F35022","#EE2425"]}},"stroke":{"field":"band","type":"ordinal","legend":null,"scale":{"domain":[-3.39,-3,-2.61,-2.22,-1.83,-1.44,-1.06,-0.67,-0.28,0.11,0.5],"range":["#2E4EA0","#3A58A8","#2FAEE4","#6CC7CE","#6CBE92","#69BC45","#A7CE39","#E2E235","#F7B71D","#F35022","#EE2425"]}},"detail":{"field":"poly"},"order":{"value":null}}},
{"data":{"name":"b_edges"},"mark":{"type":"line","stroke":"white","strokeWidth":1.3},"encoding":{"x":{"field":"x","type":"quantitative"},"y":{"field":"y","type":"quantitative"},"detail":{"field":"edge"},"order":{"value":null}}}
]},
{"width":18,"height":324,"view":{"stroke":"#231F20","strokeWidth":2.2},"data":{"name":"bands"},"mark":"rect","encoding":{"y":{"field":"band","type":"quantitative","scale":{"domain":[-3,0.5],"nice":false,"zero":false},"axis":{"orient":"right","values":[-3,-2.61,-2.22,-1.83,-1.44,-1.06,-0.67,-0.28,0.11,0.5],"format":".2f","domain":false,"tickSize":3,"tickColor":"#444444","labelPadding":10,"labelFont":"Liberation Serif","labelFontSize":20,"labelColor":"#231F20","labelOverlap":false,"title":"C","titleAngle":0,"titleX":-18,"titleY":-11,"titleAlign":"center","titleBaseline":"alphabetic","titleFont":"Liberation Serif","titleFontStyle":"italic","titleFontWeight":"normal","titleFontSize":20,"titleColor":"#231F20"}},"y2":{"field":"hi"},"x":{"datum":0,"type":"quantitative","scale":{"domain":[0,1]},"axis":{"orient":"top","domain":false,"ticks":false,"labels":false,"title":"P","titleX":13,"titleY":-7,"titleAlign":"center","titleBaseline":"alphabetic","titleFont":"Liberation Serif","titleFontStyle":"italic","titleFontWeight":"normal","titleFontSize":15,"titleColor":"#231F20"}},"x2":{"datum":1},"fill":{"field":"band","type":"ordinal","legend":null,"scale":{"domain":[-3.39,-3,-2.61,-2.22,-1.83,-1.44,-1.06,-0.67,-0.28,0.11,0.5],"range":["#2E4EA0","#3A58A8","#2FAEE4","#6CC7CE","#6CBE92","#69BC45","#A7CE39","#E2E235","#F7B71D","#F35022","#EE2425"]}}}}
],"spacing":0,"bounds":"flush"},
{"hconcat":[
{"width":1,"height":323,"data":{"values":[]},"mark":"rect"},
{"width":468,"height":323,"layer":[
{"data":{"name":"c"},"mark":{"type":"line","interpolate":"catmull-rom-closed","strokeWidth":0.6},"encoding":{"x":{"field":"x","type":"quantitative","scale":{"domain":[8,476],"nice":false,"zero":false},"axis":{"orient":"bottom","domain":false,"ticks":false,"labels":false,"title":"(c)\u00a0\u00a0Type C","titleX":275,"titleY":45,"titleFont":"Liberation Serif","titleFontSize":20,"titleFontWeight":"normal","titleColor":"#231F20","titleBaseline":"alphabetic","titleAlign":"center"}},"y":{"field":"y","type":"quantitative","scale":{"domain":[776,453],"nice":false,"zero":false},"axis":null},"fill":{"field":"band","type":"ordinal","legend":null,"scale":{"domain":[-3.39,-3,-2.61,-2.22,-1.83,-1.44,-1.06,-0.67,-0.28,0.11,0.5],"range":["#2E4EA0","#3A58A8","#2FAEE4","#6CC7CE","#6CBE92","#69BC45","#A7CE39","#E2E235","#F7B71D","#F35022","#EE2425"]}},"stroke":{"field":"band","type":"ordinal","legend":null,"scale":{"domain":[-3.39,-3,-2.61,-2.22,-1.83,-1.44,-1.06,-0.67,-0.28,0.11,0.5],"range":["#2E4EA0","#3A58A8","#2FAEE4","#6CC7CE","#6CBE92","#69BC45","#A7CE39","#E2E235","#F7B71D","#F35022","#EE2425"]}},"detail":{"field":"poly"},"order":{"value":null}}},
{"data":{"name":"c_edges"},"mark":{"type":"line","stroke":"white","strokeWidth":1.3},"encoding":{"x":{"field":"x","type":"quantitative"},"y":{"field":"y","type":"quantitative"},"detail":{"field":"edge"},"order":{"value":null}}}
]},
{"width":17,"height":323,"view":{"stroke":"#231F20","strokeWidth":2.2},"data":{"name":"bands"},"mark":"rect","encoding":{"y":{"field":"band","type":"quantitative","scale":{"domain":[-3,0.5],"nice":false,"zero":false},"axis":{"orient":"right","values":[-3,-2.61,-2.22,-1.83,-1.44,-1.06,-0.67,-0.28,0.11,0.5],"format":".2f","domain":false,"tickSize":3,"tickColor":"#444444","labelPadding":11,"labelFont":"Liberation Serif","labelFontSize":20,"labelColor":"#231F20","labelOverlap":false,"title":"C","titleAngle":0,"titleX":-17,"titleY":-11,"titleAlign":"center","titleBaseline":"alphabetic","titleFont":"Liberation Serif","titleFontStyle":"italic","titleFontWeight":"normal","titleFontSize":20,"titleColor":"#231F20"}},"y2":{"field":"hi"},"x":{"datum":0,"type":"quantitative","scale":{"domain":[0,1]},"axis":{"orient":"top","domain":false,"ticks":false,"labels":false,"title":"P","titleX":13,"titleY":-7,"titleAlign":"center","titleBaseline":"alphabetic","titleFont":"Liberation Serif","titleFontStyle":"italic","titleFontWeight":"normal","titleFontSize":15,"titleColor":"#231F20"}},"x2":{"datum":1},"fill":{"field":"band","type":"ordinal","legend":null,"scale":{"domain":[-3.39,-3,-2.61,-2.22,-1.83,-1.44,-1.06,-0.67,-0.28,0.11,0.5],"range":["#2E4EA0","#3A58A8","#2FAEE4","#6CC7CE","#6CBE92","#69BC45","#A7CE39","#E2E235","#F7B71D","#F35022","#EE2425"]}}}},
{"width":89,"height":323,"data":{"values":[]},"mark":"rect"},
{"width":467,"height":323,"layer":[
{"data":{"name":"d"},"mark":{"type":"line","interpolate":"catmull-rom-closed","strokeWidth":0.6},"encoding":{"x":{"field":"x","type":"quantitative","scale":{"domain":[582,1049],"nice":false,"zero":false},"axis":{"orient":"bottom","domain":false,"ticks":false,"labels":false,"title":"(d)\u00a0\u00a0Type D","titleX":273,"titleY":45,"titleFont":"Liberation Serif","titleFontSize":20,"titleFontWeight":"normal","titleColor":"#231F20","titleBaseline":"alphabetic","titleAlign":"center"}},"y":{"field":"y","type":"quantitative","scale":{"domain":[776,453],"nice":false,"zero":false},"axis":null},"fill":{"field":"band","type":"ordinal","legend":null,"scale":{"domain":[-3.39,-3,-2.61,-2.22,-1.83,-1.44,-1.06,-0.67,-0.28,0.11,0.5],"range":["#2E4EA0","#3A58A8","#2FAEE4","#6CC7CE","#6CBE92","#69BC45","#A7CE39","#E2E235","#F7B71D","#F35022","#EE2425"]}},"stroke":{"field":"band","type":"ordinal","legend":null,"scale":{"domain":[-3.39,-3,-2.61,-2.22,-1.83,-1.44,-1.06,-0.67,-0.28,0.11,0.5],"range":["#2E4EA0","#3A58A8","#2FAEE4","#6CC7CE","#6CBE92","#69BC45","#A7CE39","#E2E235","#F7B71D","#F35022","#EE2425"]}},"detail":{"field":"poly"},"order":{"value":null}}},
{"data":{"name":"d_edges"},"mark":{"type":"line","stroke":"white","strokeWidth":1.3},"encoding":{"x":{"field":"x","type":"quantitative"},"y":{"field":"y","type":"quantitative"},"detail":{"field":"edge"},"order":{"value":null}}}
]},
{"width":17,"height":323,"view":{"stroke":"#231F20","strokeWidth":2.2},"data":{"name":"bands"},"mark":"rect","encoding":{"y":{"field":"band","type":"quantitative","scale":{"domain":[-3,0.5],"nice":false,"zero":false},"axis":{"orient":"right","values":[-3,-2.61,-2.22,-1.83,-1.44,-1.06,-0.67,-0.28,0.11,0.5],"format":".2f","domain":false,"tickSize":3,"tickColor":"#444444","labelPadding":11,"labelFont":"Liberation Serif","labelFontSize":20,"labelColor":"#231F20","labelOverlap":false,"title":"C","titleAngle":0,"titleX":-17,"titleY":-11,"titleAlign":"center","titleBaseline":"alphabetic","titleFont":"Liberation Serif","titleFontStyle":"italic","titleFontWeight":"normal","titleFontSize":20,"titleColor":"#231F20"}},"y2":{"field":"hi"},"x":{"datum":0,"type":"quantitative","scale":{"domain":[0,1]},"axis":{"orient":"top","domain":false,"ticks":false,"labels":false,"title":"P","titleX":13,"titleY":-7,"titleAlign":"center","titleBaseline":"alphabetic","titleFont":"Liberation Serif","titleFontStyle":"italic","titleFontWeight":"normal","titleFontSize":15,"titleColor":"#231F20"}},"x2":{"datum":1},"fill":{"field":"band","type":"ordinal","legend":null,"scale":{"domain":[-3.39,-3,-2.61,-2.22,-1.83,-1.44,-1.06,-0.67,-0.28,0.11,0.5],"range":["#2E4EA0","#3A58A8","#2FAEE4","#6CC7CE","#6CBE92","#69BC45","#A7CE39","#E2E235","#F7B71D","#F35022","#EE2425"]}}}}
],"spacing":0,"bounds":"flush"}
]}
